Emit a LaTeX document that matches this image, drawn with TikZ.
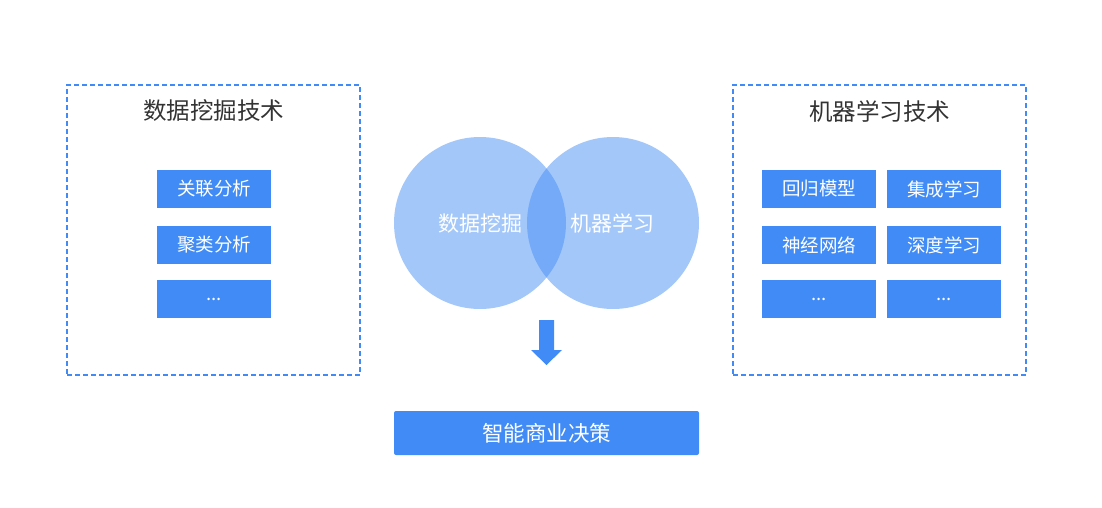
\documentclass[tikz,border=0pt]{standalone}
\usepackage{fontspec}
\newfontfamily\cjk{Noto Sans CJK SC}
\usetikzlibrary{positioning}
\definecolor{techblue}{RGB}{64,139,245}
\definecolor{titlegray}{RGB}{51,51,51}
\tikzset{
  techframe/.style={draw=techblue,line width=1.2pt,dash pattern=on 5pt off 3pt,
    minimum width=293pt,minimum height=290pt,inner sep=0pt},
  frametitle/.style={text=titlegray,font=\cjk\fontsize{23.5}{23.5}\selectfont},
  itembox/.style={fill=techblue,text=white,minimum width=114pt,minimum height=38pt,
    inner sep=0pt,font=\cjk\fontsize{18.5}{18.5}\selectfont},
  venn/.style={circle,fill=techblue,fill opacity=.48,text opacity=1,text=white,
    minimum size=172pt,inner sep=0pt,font=\cjk\fontsize{21}{21}\selectfont},
  decisionbox/.style={fill=techblue,text=white,rounded corners=2pt,minimum width=305pt,
    minimum height=44pt,inner sep=0pt,font=\cjk\fontsize{21.5}{21.5}\selectfont}
}

\begin{document}
\begin{tikzpicture}[x=1pt,y=-1pt]
\useasboundingbox (0,0) rectangle (1102,508);

% ---------------- data mining frame ----------------
\node[techframe] (dmframe) at (213.5,230) {};
\node[frametitle] (dmtitle) at (213.5,111) {数据挖掘技术};
\node[itembox] (assoc) at (214,189) {关联分析};
\node[itembox] (cluster) at (214,245) {聚类分析};
\node[itembox] (dmmore) at (214,299) {...};

% ---------------- machine learning frame ----------------
\node[techframe] (mlframe) at (879.5,230) {};
\node[frametitle] (mltitle) at (879.5,111) {机器学习技术};
\node[itembox] (regress) at (819,189) {回归模型};
\node[itembox] (ensemble) at (944,189) {集成学习};
\node[itembox] (neural) at (819,245) {神经网络};
\node[itembox] (deep) at (944,245) {深度学习};
\node[itembox] (mlmore1) at (819,299) {...};
\node[itembox] (mlmore2) at (944,299) {...};

% ---------------- venn circles ----------------
\node[venn] (dmcircle) at (480,223) {数据挖掘};
\node[venn] (mlcircle) at (613,223) {};
\node[text=white,font=\cjk\fontsize{21}{21}\selectfont] (mltext) at (612,223) {机器学习};

% ---------------- decision ----------------
\node[decisionbox] (decision) at (546.5,433) {智能商业决策};

% ---------------- block arrow ----------------
\coordinate (arrtop) at (546.5,320);
\fill[techblue] (arrtop) ++(-7.5,0) -- ++(15,0) -- ++(0,30) -- ++(8,0)
  -- ++(-15.5,15) -- ++(-15.5,-15) -- ++(8,0) -- cycle;
\end{tikzpicture}
\end{document}
